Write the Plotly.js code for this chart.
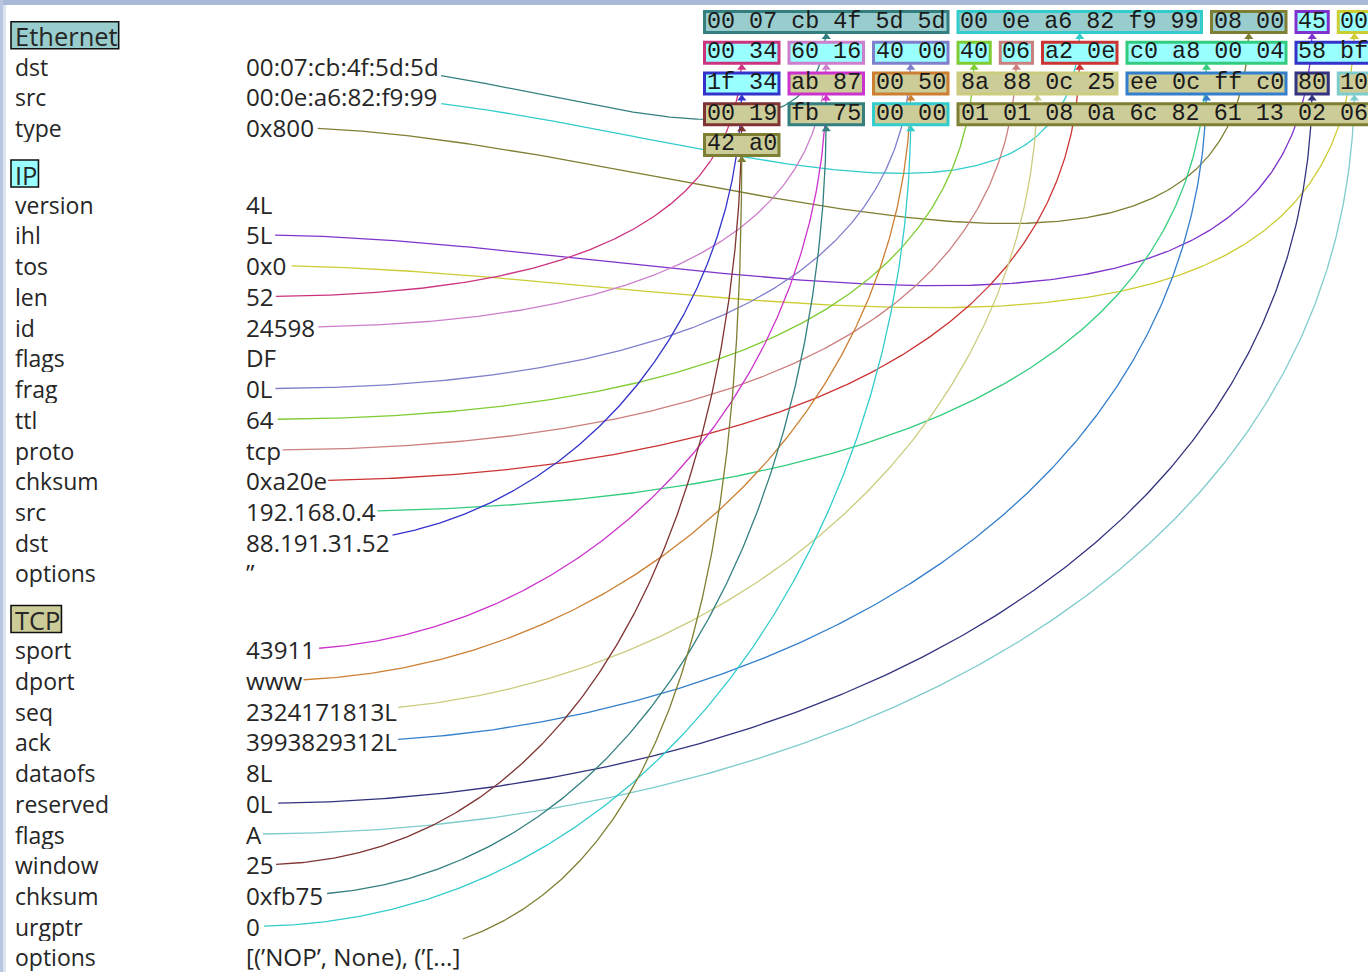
<!DOCTYPE html>
<html><head><meta charset="utf-8">
<script src="https://cdn.plot.ly/plotly-3.0.1.min.js"></script>
<style>html,body{margin:0;padding:0;background:#fff;overflow:hidden}#chart{width:1368px;height:972px}</style>
</head><body><div id="chart"></div>
<script>
// ---------- data ----------
const layerNames = ["Ethernet", "IP", "TCP"];
const layerFills = ["#99cccc", "#99ffff", "#cccc99"];
const layerFieldCounts = [3, 13, 11];
const fieldNames = ["dst","src","type",
  "version","ihl","tos","len","id","flags","frag","ttl","proto","chksum","src","dst","options",
  "sport","dport","seq","ack","dataofs","reserved","flags","window","chksum","urgptr","options"];
const fieldValues = ["00:07:cb:4f:5d:5d","00:0e:a6:82:f9:99","0x800",
  "4L","5L","0x0","52","24598","DF","0L","64","tcp","0xa20e","192.168.0.4","88.191.31.52","\u201D",
  "43911","www","2324171813L","3993829312L","8L","0L","A","25","0xfb75","0","[(\u2019NOP\u2019, None), (\u2019[...]"];
const fieldBytes = [
  ["00","07","cb","4f","5d","5d"], ["00","0e","a6","82","f9","99"], ["08","00"],
  [], ["45"], ["00"], ["00","34"], ["60","16"], [], ["40","00"], ["40"], ["06"], ["a2","0e"],
  ["c0","a8","00","04"], ["58","bf","1f","34"], [],
  ["ab","87"], ["00","50"], ["8a","88","0c","25"], ["ee","0c","ff","c0"], [], ["80"], ["10"],
  ["00","19"], ["fb","75"], ["00","00"], ["01","01","08","0a","6c","82","61","13","02","06","42","a0"]
];
const fieldColors = ["#337f7f","#33cccc","#7f7f33",
  "#7fcc7f","#7f33cc","#cccc33","#cc337f","#cc7fcc","#7f7f7f","#7f7fcc","#7fcc33","#cc7f7f","#cc3333","#33cc7f","#3333cc","#cc7fcc",
  "#cc33cc","#cc7f33","#cccc7f","#337fcc","#7fcc7f","#33337f","#7fcccc","#7f3333","#337f7f","#33cccc","#7f7f33"];

// ---------- geometry / style ----------
const W = 1368, H = 972;
const LABEL_X = 13.5, VALUE_X = 245, Y0 = 35.3, UNIT = 30.72;
const HEX_X0 = 703, BYTE_PITCH = 42.25, BOX_GAP = 7, HEX_Y0 = 22, HEX_HALF = 12, BYTES_PER_ROW = 16;
const TEXT_FONT = "Open Sans", LABEL_SIZE = 23, VALUE_SIZE = 24.2, HEADER_SIZE = 25.5;
const HEX_FONT = "Liberation Mono", HEX_SIZE = 23.4;
const TEXT_COLOR = "#262626";

const ctx = document.createElement("canvas").getContext("2d");
function textWidth(s, size, family) { ctx.font = size + 'px "' + family + '"'; return ctx.measureText(s).width; }

const traces = [], shapes = [], annotations = [];
const arrowX = [], arrowY = [], arrowC = [];

function bez(p0, p1, p2, p3, t) {
  const a = (1-t)*(1-t)*(1-t), b = 3*(1-t)*(1-t)*t, c = 3*(1-t)*t*t, d = t*t*t;
  return [a*p0[0]+b*p1[0]+c*p2[0]+d*p3[0], a*p0[1]+b*p1[1]+c*p2[1]+d*p3[1]];
}
function txt(x, y, s, size, family, color, anchor, h) {
  const a = {x:x, y:y, xref:"x", yref:"y", text:s, showarrow:false, xanchor:anchor, yanchor:"middle",
    borderpad:0, font:{family:family, size:size, color:color}};
  if (h) a.height = h;
  annotations.push(a);
}

let u = -0.5, fi = 0, byteIdx = 0;
for (let L = 0; L < layerNames.length; L++) {
  u += 0.5;
  const hy = Y0 + u*UNIT;
  const hw = textWidth(layerNames[L], HEADER_SIZE, TEXT_FONT);
  shapes.push({type:"rect", xref:"x", yref:"y", x0:LABEL_X-2.5, x1:LABEL_X+hw+2.5, y0:hy-13.5, y1:hy+13.5,
    line:{color:"#111", width:1.6}, fillcolor:layerFills[L], layer:"above"});
  txt(LABEL_X, hy+0.5, layerNames[L], HEADER_SIZE, TEXT_FONT, TEXT_COLOR, "left", 29);
  u += 1;
  for (let k = 0; k < layerFieldCounts[L]; k++, fi++) {
    const y = Y0 + u*UNIT;
    txt(LABEL_X, y, fieldNames[fi], LABEL_SIZE, TEXT_FONT, TEXT_COLOR, "left", 29);
    txt(VALUE_X, y, fieldValues[fi], VALUE_SIZE, TEXT_FONT, TEXT_COLOR, "left", 29);
    const bytes = fieldBytes[fi];
    if (bytes.length) {
      const segs = [];
      let i = 0;
      while (i < bytes.length) {
        const row = Math.floor(byteIdx / BYTES_PER_ROW), col = byteIdx % BYTES_PER_ROW;
        const n = Math.min(bytes.length - i, BYTES_PER_ROW - col);
        segs.push({row, col, b: bytes.slice(i, i+n)});
        i += n; byteIdx += n;
      }
      let last = null;
      segs.forEach(sg => {
        const left = HEX_X0 + sg.col*BYTE_PITCH;
        const right = left + sg.b.length*BYTE_PITCH - BOX_GAP;
        const cy = HEX_Y0 + sg.row*UNIT;
        shapes.push({type:"rect", xref:"x", yref:"y", x0:left+1.5, x1:right-1.5, y0:cy-HEX_HALF+1.5, y1:cy+HEX_HALF-1.5,
          line:{color:fieldColors[fi], width:3}, fillcolor:layerFills[L], layer:"above"});
        txt((left+right)/2, cy-0.5, sg.b.join(" "), HEX_SIZE, HEX_FONT, "#1a1a1a", "center", 0);
        last = {cx:(left+right)/2, cy:cy};
      });
      // connector curve (horizontal start, vertical end, bulge 0.39*distance)
      const vw = textWidth(fieldValues[fi], VALUE_SIZE, TEXT_FONT);
      const p0 = [VALUE_X + vw/2, y], p3 = [last.cx, last.cy];
      const bulge = 0.39 * Math.hypot(p3[0]-p0[0], p3[1]-p0[1]);
      const p1 = [p0[0]+bulge, p0[1]], p2 = [p3[0], p3[1]+bulge];
      const xStart = VALUE_X + vw + 2;
      const xs = [], ys = [];
      for (let s = 0; s <= 300; s++) {
        const pt = bez(p0, p1, p2, p3, s/300);
        if (xs.length === 0 && pt[0] < xStart) continue;
        xs.push(pt[0]); ys.push(pt[1]);
      }
      traces.push({type:"scatter", mode:"lines", x:xs, y:ys, hoverinfo:"skip",
        line:{color:fieldColors[fi], width:1.3, shape:"linear"}});
      arrowX.push(last.cx); arrowY.push(last.cy + HEX_HALF + 3); arrowC.push(fieldColors[fi]);
    }
    u += 1;
  }
}
traces.push({type:"scatter", mode:"markers", x:arrowX, y:arrowY, hoverinfo:"skip",
  marker:{symbol:"triangle-up", size:8, color:arrowC, line:{width:0}}});

// page frame strips
shapes.push({type:"rect", xref:"x", yref:"y", x0:0, x1:W, y0:0, y1:5, line:{width:0}, fillcolor:"#a9b9d8", layer:"above"});
shapes.push({type:"rect", xref:"x", yref:"y", x0:0, x1:3, y0:0, y1:H, line:{width:0}, fillcolor:"#b9c6e0", layer:"above"});
shapes.push({type:"rect", xref:"x", yref:"y", x0:3, x1:6, y0:5, y1:H, line:{width:0}, fillcolor:"#dde4f1", layer:"above"});

const layout = {
  width: W, height: H, margin: {l:0, r:0, t:0, b:0, pad:0},
  paper_bgcolor: "#ffffff", plot_bgcolor: "#ffffff", showlegend: false,
  xaxis: {range:[0, W], visible:false, fixedrange:true},
  yaxis: {range:[H, 0], visible:false, fixedrange:true},
  shapes: shapes, annotations: annotations
};
Plotly.newPlot("chart", traces, layout, {staticPlot:true, displayModeBar:false});
</script>
</body></html>
